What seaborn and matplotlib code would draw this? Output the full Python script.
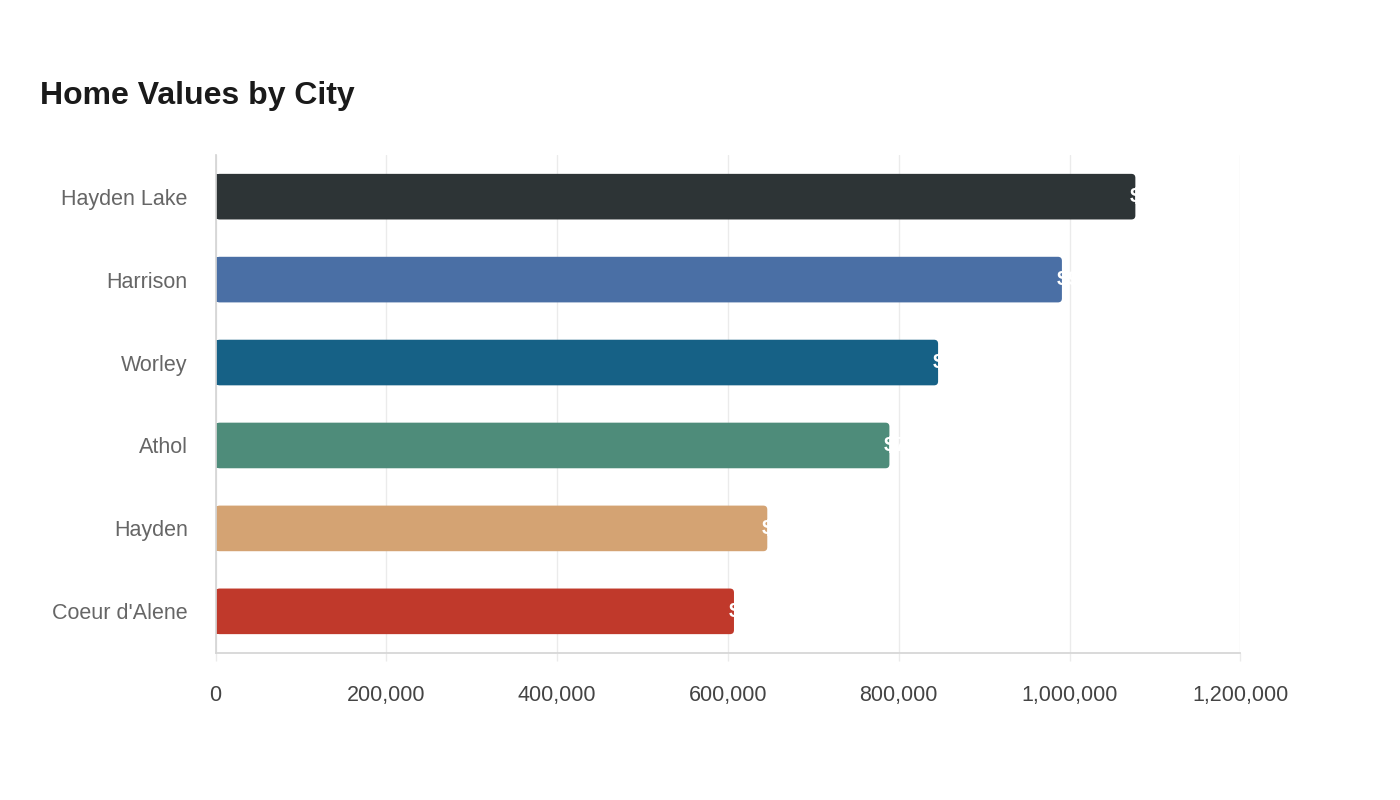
import matplotlib
matplotlib.use("Agg")
import matplotlib.pyplot as plt
from matplotlib.patches import FancyBboxPatch, Rectangle
from matplotlib.ticker import FuncFormatter
import seaborn as sns
import pandas as pd

cities = ["Hayden Lake", "Harrison", "Worley", "Athol", "Hayden", "Coeur d'Alene"]
values = [1077000, 991000, 846000, 789000, 646000, 607000]
colors = ["#2d3436", "#4a6fa5", "#166186", "#4e8c7a", "#d4a373", "#c0392b"]

df = pd.DataFrame({"city": cities, "value": values})

sns.set_theme(style="white")
plt.rcParams["font.family"] = ["Liberation Sans", "DejaVu Sans"]

fig = plt.figure(figsize=(14, 8), dpi=100)
ax = fig.add_axes([0.154, 0.184, 0.732, 0.622])

sns.barplot(data=df, y="city", x="value", hue="city", palette=colors,
            saturation=1, legend=False, width=0.55, ax=ax, zorder=2)

ax.set_xlim(0, 1200000)
ax.set_ylim(5.5, -0.5)

# round only the right end of each bar (about 4px radius)
for p in list(ax.patches):
    x0, y0 = p.get_x(), p.get_y()
    w, h = p.get_width(), p.get_height()
    fc = p.get_facecolor()
    p.remove()
    ax.add_patch(FancyBboxPatch((x0, y0), w, h,
                                boxstyle="round,pad=0,rounding_size=4700",
                                mutation_aspect=1.02e-5,
                                facecolor=fc, edgecolor="none", zorder=2))
    ax.add_patch(Rectangle((x0, y0), w / 2, h, facecolor=fc,
                           edgecolor="none", zorder=2))

# value labels (white, mostly vanish past the bar end)
for i, v in enumerate(values):
    ax.annotate(f"${v:,.0f}", (v, i), xytext=(-4, 0), textcoords="offset points",
                ha="left", va="center", color="white", fontsize=15,
                fontweight="bold", zorder=3)

ax.xaxis.set_major_formatter(FuncFormatter(lambda x, _: f"{x:,.0f}"))
ax.set_xticks(range(0, 1200001, 200000))
ax.grid(axis="x", color="#ebebeb", lw=1, zorder=0)
ax.set_axisbelow(True)

for s in ["top", "right"]:
    ax.spines[s].set_visible(False)
ax.spines["left"].set_color("#d5d5d5")
ax.spines["bottom"].set_color("#d5d5d5")

ax.tick_params(axis="x", colors="#ebebeb", length=6, width=1, labelcolor="#444444",
               labelsize=15.5, pad=17, bottom=True)
ax.tick_params(axis="y", length=0, labelcolor="#666666", labelsize=15.5, pad=20)

ax.set_xlabel("")
ax.set_ylabel("")

fig.text(40 / 1400, 1 - 96 / 800, "Home Values by City", fontsize=23,
         fontweight="bold", color="#1a1a1a", ha="left", va="center")

fig.savefig("out.png", dpi=100)
